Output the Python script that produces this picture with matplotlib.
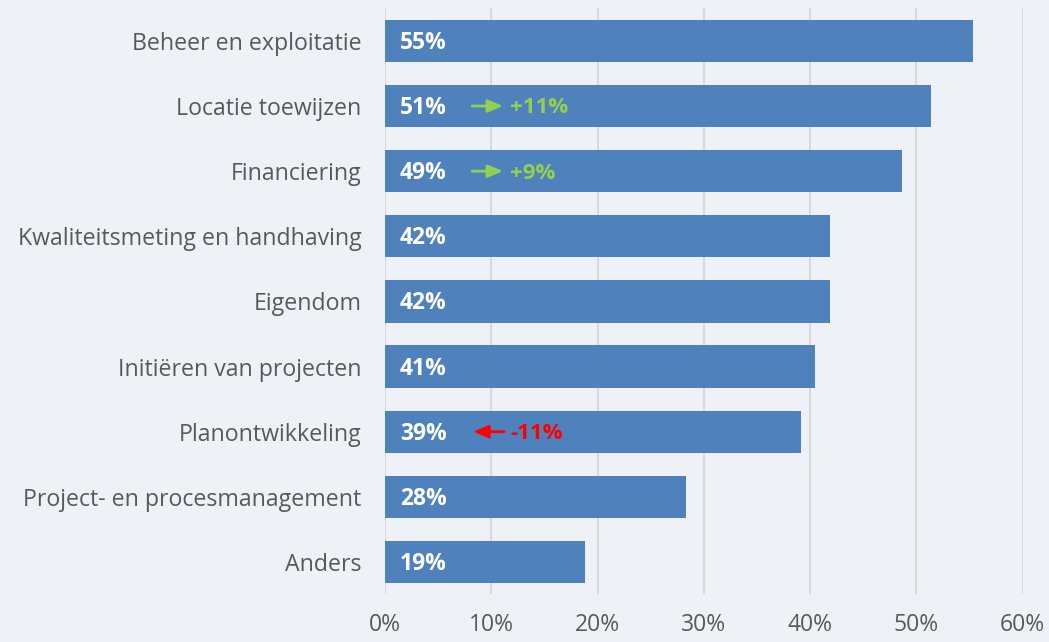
import matplotlib.pyplot as plt
import numpy as np

plt.rcParams['font.family'] = ['Open Sans', 'DejaVu Sans']

categories = ['Beheer en exploitatie', 'Locatie toewijzen', 'Financiering',
              'Kwaliteitsmeting en handhaving', 'Eigendom', 'Initiëren van projecten',
              'Planontwikkeling', 'Project- en procesmanagement', 'Anders']
values = [55.3, 51.4, 48.6, 41.9, 41.9, 40.5, 39.1, 28.3, 18.8]
labels = ['55%', '51%', '49%', '42%', '42%', '41%', '39%', '28%', '19%']
# change annotations: category index -> (text, direction)
changes = {1: ('+11%', 1), 2: ('+9%', 1), 6: ('-11%', -1)}

bg = '#EEF2F6'
fig = plt.figure(figsize=(10.49, 6.42), dpi=100, facecolor=bg)
ax = fig.add_axes([0.367, 0.074, 0.608, 0.913], facecolor=bg)

y = np.arange(len(categories))
ax.barh(y, values, height=0.65, color='#4F81BD', zorder=3)
ax.set_ylim(len(categories) - 0.5, -0.5)
ax.set_xlim(0, 60)
ax.set_xticks(np.arange(0, 61, 10))
ax.set_xticklabels([f'{v}%' for v in range(0, 61, 10)])
ax.set_yticks(y)
ax.set_yticklabels(categories)
ax.grid(axis='x', color='#D9D9D9', linewidth=1.5, zorder=0)
for s in ax.spines.values():
    s.set_visible(False)
ax.tick_params(axis='both', length=0, colors='#595959')
ax.tick_params(axis='y', pad=17, labelsize=16.7)
ax.tick_params(axis='x', pad=13, labelsize=16.5)

for i, lab in enumerate(labels):
    ax.text(1.4, i + 0.03, lab, color='white', fontsize=16.5, fontweight='bold',
            va='center', ha='left', zorder=4)

for i, (txt, d) in changes.items():
    col = '#92D050' if d > 0 else '#FF0000'
    x0, x1 = (8.2, 11.1) if d > 0 else (11.2, 8.3)
    ax.annotate('', xy=(x1, i), xytext=(x0, i),
                arrowprops=dict(arrowstyle='-|>,head_length=0.9,head_width=0.38',
                                color=col, lw=2, shrinkA=0, shrinkB=0), zorder=4)
    ax.text(11.8, i + 0.03, txt, color=col, fontsize=16, fontweight='bold',
            va='center', ha='left', zorder=4)

fig.savefig('out.png', dpi=100, facecolor=bg)
